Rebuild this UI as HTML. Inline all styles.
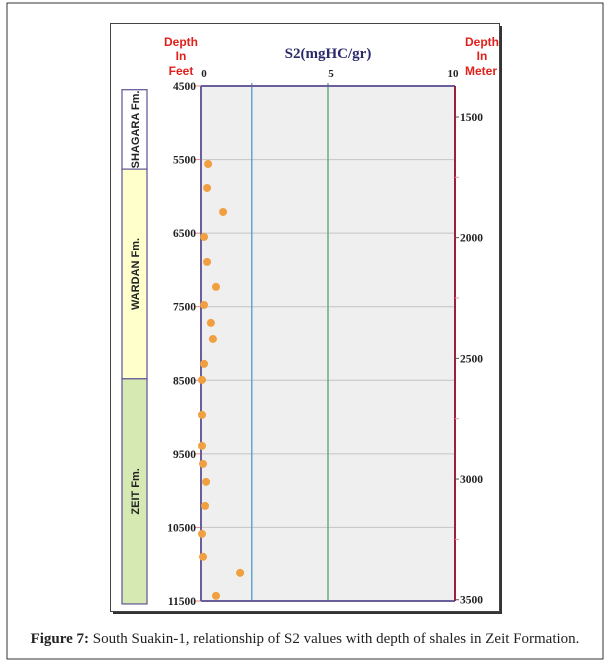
<!DOCTYPE html>
<html><head><meta charset="utf-8"><style>
body{margin:0;background:#fff;width:611px;height:666px;overflow:hidden;font-family:"Liberation Sans",sans-serif}
</style></head><body>
<svg id="chart" width="611" height="666" xmlns="http://www.w3.org/2000/svg">
<rect x="7" y="3" width="596" height="656" fill="#fff" stroke="#333" stroke-width="1"/>
<rect x="113" y="26" width="389" height="588" fill="#333"/>
<rect x="110.5" y="23.5" width="389" height="588" fill="#fff" stroke="#444" stroke-width="1"/>
<text x="305" y="643" font-family="Liberation Serif,serif" font-size="15" text-anchor="middle" fill="#222"><tspan font-weight="bold">Figure 7:</tspan> South Suakin-1, relationship of S2 values with depth of shales in Zeit Formation.</text>
<g id="plot"></g>
</svg>
<script>
const s2Values=[0.28,0.24,0.87,0.12,0.24,0.59,0.12,0.39,0.47,0.12,0.04,0.04,0.04,0.08,0.2,0.16,0.04,0.08,1.54,0.59];
const depthsFt=[5560,5886,6212,6552,6891,7231,7476,7720,7938,8277,8495,8970,9391,9636,9880,10207,10587,10899,11117,11430];
const feetTicks=[4500,5500,6500,7500,8500,9500,10500,11500];
const meterTicks=[1500,2000,2500,3000,3500];
const s2Ticks=[0,5,10];
const cutoffs=[2,5];
const formations=[{name:"SHAGARA Fm.",top:4550,base:5630,color:"#fff"},{name:"WARDAN Fm.",top:5630,base:8480,color:"#ffffcc"},{name:"ZEIT Fm.",top:8480,base:11540,color:"#d7e9b3"}];

const L=201,R=455,T=86,B=601;
const x=v=>L+(v/10)*(R-L);
const y=d=>T+(d-4500)/7000*(B-T);
const ym=m=>y(m*3.28084);
const NS="http://www.w3.org/2000/svg";
const g=document.getElementById('plot');
function mk(tag,attrs,txt){const e=document.createElementNS(NS,tag);for(const k in attrs)e.setAttribute(k,attrs[k]);if(txt!==undefined)e.textContent=txt;g.appendChild(e);return e;}

let e;
e=mk('rect',{x:L,y:T,width:R-L,height:B-T,fill:'#efefef'});


feetTicks.forEach(t=>{
 e=mk('line',{x1:L,x2:R,y1:y(t),y2:y(t),stroke:'#c4c4c4','stroke-width':1});
 
 
 e=mk('line',{x1:L-6,x2:L,y1:y(t),y2:y(t),stroke:'#e88','stroke-width':1});
 
 
 e=mk('text',{x:L-5,y:y(t)+4,'font-family':'Liberation Serif,serif','font-weight':'bold','font-size':11.5,'text-anchor':'end',fill:'#222'},t);
 
 
});
cutoffs.forEach((c,i)=>{
 e=mk('line',{x1:x(c),x2:x(c),y1:T-3,y2:B,stroke:i?'#4aa86a':'#4a9ccc','stroke-width':1.3});
 
 
});
e=mk('line',{x1:L,x2:R,y1:T,y2:T,stroke:'#6a5f9a','stroke-width':2});


e=mk('line',{x1:L,x2:R,y1:B,y2:B,stroke:'#6a5f9a','stroke-width':2});


e=mk('line',{x1:L,x2:L,y1:T,y2:B,stroke:'#6a5f9a','stroke-width':2});


e=mk('line',{x1:R,x2:R,y1:T,y2:B,stroke:'#9a2040','stroke-width':2});


s2Ticks.forEach(t=>{
 e=mk('text',{x:x(t)+(t==10?-2:3),y:77,'font-family':'Liberation Serif,serif','font-weight':'bold','font-size':11,'text-anchor':'middle',fill:'#222'},t);
 
 
});
meterTicks.forEach(m=>{
 e=mk('line',{x1:R,x2:R+4,y1:ym(m),y2:ym(m),stroke:'#555','stroke-width':1});
 
 
 e=mk('text',{x:R+5,y:ym(m)+4,'font-family':'Liberation Serif,serif','font-weight':'bold','font-size':11.5,fill:'#222'},m);
 
 
});
for(let m=1750;m<3500;m+=500){
 e=mk('line',{x1:R,x2:R+4,y1:ym(m),y2:ym(m),stroke:'#e99','stroke-width':1});
 
 
}
formations.forEach(f=>{
 const y1=y(f.top),y2=y(f.base);
 e=mk('rect',{x:122,y:y1,width:25,height:y2-y1,fill:f.color,stroke:'#6a5f9a','stroke-width':1.3});
 
 
 const cy=(y1+y2)/2;
 e=mk('text',{x:139,y:cy,transform:`rotate(-90 139 ${cy})`,'font-size':11,'font-weight':'bold','text-anchor':'middle',fill:'#222'},f.name);
 
 
});
s2Values.forEach((v,i)=>{
 e=mk('circle',{cx:x(v),cy:y(depthsFt[i]),r:4,fill:'#f0a040'});
 
 
});
[['Depth',181,46],['In',181,60],['Feet',181,75],['Depth',482,46],['In',482,60],['Meter',481,75]].forEach(a=>{
 e=mk('text',{x:a[1],y:a[2],'font-size':12,'font-weight':'bold','text-anchor':'middle',fill:'#e0201a'},a[0]);
 
 
});
e=mk('text',{x:328,y:58,'font-family':'Liberation Serif,serif','font-weight':'bold','font-size':15,'text-anchor':'middle',fill:'#2a2a6a'},'S2(mgHC/gr)');


</script>
</body></html>
